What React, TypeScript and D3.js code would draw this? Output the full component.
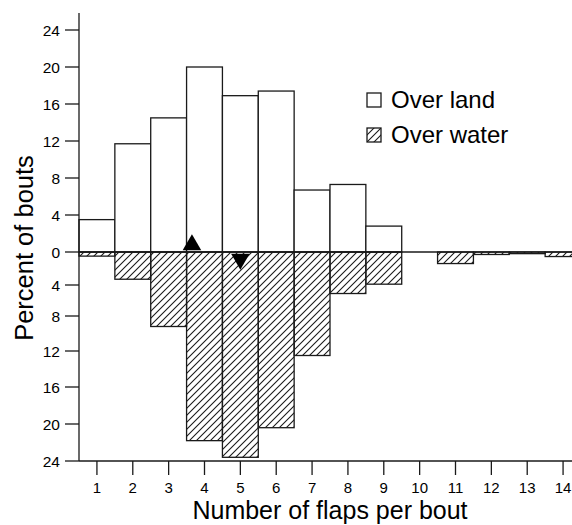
import React from 'react';
import * as d3 from 'd3';

// number of flaps per bout, 1..14
const flaps = [1, 2, 3, 4, 5, 6, 7, 8, 9, 10, 11, 12, 13, 14];
// percent of bouts
const overLand = [3.5, 11.7, 14.5, 20.0, 16.9, 17.4, 6.7, 7.3, 2.8, 0, 0, 0, 0, 0];
const overWater = [0.5, 3.3, 9.2, 21.8, 23.6, 20.4, 12.5, 5.1, 3.9, 0, 1.4, 0.3, 0.2, 0.55];
// mean markers (triangles)
const landMean = 3.65;
const waterMean = 5.0;

const upTicks = [0, 4, 8, 12, 16, 20, 24];
const downTicks = [4, 8, 12, 16, 20, 24];
const legendItems = ['Over land', 'Over water'];

const W = 572;
const H = 525;
const FONT = 'Arimo, "Liberation Sans", Arial, Helvetica, sans-serif';
const INK = '#1a1a1a';

export default function App() {
  const x = d3.scaleLinear().domain([0.5, 14.5]).range([79, 581]);
  const yUp = d3.scaleLinear().domain([0, 24]).range([252, 30]);
  // lower half of the original axis is drawn slightly unevenly
  const yDown = d3.scaleLinear()
    .domain([0, 4, 8, 12, 16, 20, 24])
    .range([252, 285, 316, 351, 387, 424, 461]);

  const x0 = x(0.5);
  const yBase = yDown(24);
  const tri = d3.symbol().type(d3.symbolTriangle).size(150);

  return (
    <svg width={W} height={H} style={{ position: 'absolute', left: 0, top: 0, background: '#fff' }}
      fontFamily={FONT}>
      <defs>
        <pattern id="hatch" patternUnits="userSpaceOnUse" width={7} height={7}>
          <path d="M-1,1 l2,-2 M0,7 l7,-7 M6,8 l2,-2" stroke={INK} strokeWidth={1.1} />
        </pattern>
      </defs>

      {/* land bars */}
      {flaps.map((f, i) => overLand[i] > 0 && (
        <rect key={'l' + f} x={x(f - 0.5)} y={yUp(overLand[i])}
          width={x(f + 0.5) - x(f - 0.5)} height={yUp(0) - yUp(overLand[i])}
          fill="#fff" stroke={INK} strokeWidth={1.3} />
      ))}

      {/* water bars */}
      {flaps.map((f, i) => overWater[i] > 0 && (
        <rect key={'w' + f} x={x(f - 0.5)} y={yDown(0)}
          width={x(f + 0.5) - x(f - 0.5)} height={yDown(overWater[i]) - yDown(0)}
          fill="url(#hatch)" stroke={INK} strokeWidth={1.3} />
      ))}

      {/* zero line */}
      <line x1={x0} x2={W} y1={yUp(0)} y2={yUp(0)} stroke={INK} strokeWidth={1.3} />

      {/* mean markers */}
      <path d={tri() as string} fill="#000"
        transform={`translate(${x(landMean)},${yUp(0) - 7})`} />
      <path d={tri() as string} fill="#000"
        transform={`translate(${x(waterMean)},${yDown(0) + 7}) rotate(180)`} />

      {/* y axis */}
      <line x1={x0} x2={x0} y1={13} y2={yBase} stroke={INK} strokeWidth={1.3} />
      {upTicks.map(t => (
        <g key={'u' + t} transform={`translate(0,${yUp(t)})`}>
          <line x1={x0 - 14} x2={x0} stroke={INK} strokeWidth={1.3} />
          <text x={x0 - 19} dy="0.36em" textAnchor="end" fontSize={15.5} fill="#000">{t}</text>
        </g>
      ))}
      {downTicks.map(t => (
        <g key={'d' + t} transform={`translate(0,${yDown(t)})`}>
          <line x1={x0 - 14} x2={x0} stroke={INK} strokeWidth={1.3} />
          <text x={x0 - 19} dy="0.36em" textAnchor="end" fontSize={15.5} fill="#000">{t}</text>
        </g>
      ))}

      {/* x axis */}
      <line x1={x0} x2={W} y1={yBase} y2={yBase} stroke={INK} strokeWidth={1.3} />
      {flaps.map(f => (
        <g key={'x' + f} transform={`translate(${x(f)},${yBase})`}>
          <line y1={0} y2={14} stroke={INK} strokeWidth={1.3} />
          <text y={32} textAnchor="middle" fontSize={15} fill="#000">{f}</text>
        </g>
      ))}

      {/* axis titles */}
      <text x={330} y={519} textAnchor="middle" fontSize={25} fill="#000">Number of flaps per bout</text>
      <text transform={`translate(33,248) rotate(-90)`} textAnchor="middle" fontSize={25.5} fill="#000">
        Percent of bouts
      </text>

      {/* legend */}
      {legendItems.map((name, i) => (
        <g key={name} transform={`translate(367,${93 + i * 35})`}>
          <rect width={14} height={14} fill={i === 0 ? '#fff' : 'url(#hatch)'} stroke={INK} strokeWidth={1.3} />
          <text x={24} y={14.5} fontSize={24} fill="#000">{name}</text>
        </g>
      ))}
    </svg>
  );
}
